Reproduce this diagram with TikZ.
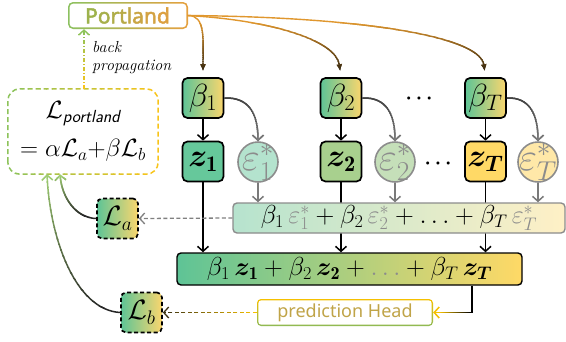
\RequirePackage{fix-cm}
\documentclass[tikz,border=0pt]{standalone}
\usepackage{amsmath}
\usepackage{bm}
\usepackage{fontspec}
\newfontfamily\notosans{Noto Sans}
\newfontfamily\notosansfb{Noto Sans}[FakeBold=2.2]
\usetikzlibrary{arrows.meta}

\definecolor{gA}{HTML}{5EC496}
\definecolor{yA}{HTML}{FAD66E}
\definecolor{zone}{HTML}{66C89B}
\definecolor{ztwo}{HTML}{A8D08E}
\definecolor{zT}{HTML}{FFD966}
\definecolor{eone}{HTML}{B4E3CE}
\definecolor{etwo}{HTML}{C5DFB9}
\definecolor{eT}{HTML}{FFE8A8}
\definecolor{cgray}{HTML}{8C8C8C}
\definecolor{dgray}{HTML}{3A3A3A}
\definecolor{mgray}{HTML}{7A7A7A}
\definecolor{epsL}{HTML}{B6E3CE}
\definecolor{epsR}{HTML}{FFF0C6}
\definecolor{porG}{HTML}{8CC160}
\definecolor{porO}{HTML}{E6A03E}
\definecolor{ptA}{HTML}{9DB24C}
\definecolor{ptB}{HTML}{DCA040}
\definecolor{predY}{HTML}{F5C000}
\definecolor{predG}{HTML}{8DBA55}
\definecolor{predT}{HTML}{C0A448}
\definecolor{lossG}{HTML}{8DC35A}
\definecolor{lossY}{HTML}{F8C419}
\definecolor{arrO}{HTML}{E0972E}
\definecolor{arrD}{HTML}{3A2A10}
\definecolor{arrK}{HTML}{3C3212}

% gradient stroke along y: #1<#2 , colour #3 at #1, colour #4 at #2
\newcommand\ygrad[6]{%
  \foreach \gi in {0,...,23}{%
    \pgfmathsetmacro\gya{#1+(#2-#1)*\gi/24-0.3}%
    \pgfmathsetmacro\gyb{#1+(#2-#1)*(\gi+1)/24+0.3}%
    \ifnum\gi=0 \def\gya{-2000}\fi
    \ifnum\gi=23 \def\gyb{3000}\fi
    \pgfmathtruncatemacro\gpc{100-\gi*100/23}%
    \begin{scope}
      \clip (-2000,\gya) rectangle (3000,\gyb);
      \draw[#5,draw=#3!\gpc!#4] #6;
    \end{scope}}}
\newcommand\xgrad[6]{%
  \foreach \gi in {0,...,23}{%
    \pgfmathsetmacro\gxa{#1+(#2-#1)*\gi/24-0.3}%
    \pgfmathsetmacro\gxb{#1+(#2-#1)*(\gi+1)/24+0.3}%
    \ifnum\gi=0 \def\gxa{-2000}\fi
    \ifnum\gi=23 \def\gxb{3000}\fi
    \pgfmathtruncatemacro\gpc{100-\gi*100/23}%
    \begin{scope}
      \clip (\gxa,-2000) rectangle (\gxb,3000);
      \draw[#5,draw=#3!\gpc!#4] #6;
    \end{scope}}}

\begin{document}
\begin{tikzpicture}[x=1pt,y=-1pt,
  bbox/.style={draw=black, line width=1.7pt, rounded corners=5pt, minimum width=41pt, minimum height=40pt, inner sep=0pt, font=\fontsize{32}{34}\selectfont},
  betabox/.style={bbox, left color=gA, right color=yA},
  ecirc/.style={circle, draw=cgray, line width=1.6pt, minimum size=40pt, inner sep=0pt},
  etext/.style={inner sep=0pt, text=cgray, font=\fontsize{39}{40}\selectfont},
  lbox/.style={bbox, dash pattern=on 4pt off 2.5pt, left color=gA, right color=yA, font=\fontsize{28}{30}\selectfont},
  bar/.style={line width=1.4pt, rounded corners=4pt, inner sep=0pt, font=\fontsize{26}{28}\selectfont},
  barr/.style={line width=1.5pt, -{Straight Barb[length=5pt,width=11pt]}},
  garr/.style={barr},
  pto/.style={line width=1.4pt, -{Latex[length=7pt,width=6pt]}, shorten >=6pt},
  bp/.style={line width=1.4pt, dash pattern=on 4pt off 2pt on 1pt off 2pt, -{Straight Barb[length=5pt,width=11pt]}},
  dashedarr/.style={line width=1.3pt, dash pattern=on 4pt off 2.5pt, -{Straight Barb[length=5pt,width=11pt]}},
  dots/.style={inner sep=0pt, font=\fontsize{20}{20}\selectfont}
]
\useasboundingbox (0,0) rectangle (566,341);
\fill[white] (0,0) rectangle (566,341);

% Portland box
\shade[left color=porG, right color=porO, rounded corners=5pt] (68,2) rectangle (188,29);
\fill[white, rounded corners=3.8pt] (69.6,3.6) rectangle (186.4,27.4);
\node[minimum width=120pt, minimum height=27pt, inner sep=0pt, font=\notosansfb\fontsize{21}{22}\selectfont] (portland) at (127.5,15.5)
  {\textcolor{ptA!100!ptB}{P}\textcolor{ptA!86!ptB}{o}\textcolor{ptA!71!ptB}{r}\textcolor{ptA!57!ptB}{t}\textcolor{ptA!43!ptB}{l}\textcolor{ptA!29!ptB}{a}\textcolor{ptA!14!ptB}{n}\textcolor{ptA!0!ptB}{d}};

% loss box
\node[minimum width=150pt, minimum height=85pt, align=center, font=\fontsize{25}{36}\selectfont] (loss) at (83,131.5)
  {$\mathcal{L}_{\text{\sffamily\itshape portland}}$\\[2pt]$=\alpha\mathcal{L}_a{+}\beta\mathcal{L}_b$};
\xgrad{10}{156}{lossG}{lossY}{line width=1.5pt, dash pattern=on 5pt off 3pt, rounded corners=12pt}{(loss.south west) rectangle (loss.north east)}

% back propagation
\coordinate (bpx) at (84,0);
\ygrad{32}{88}{lossG}{lossY}{bp}{(bpx |- loss.north) -- (bpx |- portland.south)}
\node[anchor=west, align=left, inner sep=0pt, font=\itshape\fontsize{16}{18}\selectfont] (bptext) at (92,58) {back\\propagation};

% beta and z boxes
\node[betabox] (b1) at (203,98) {$\beta_1$};
\node[betabox] (b2) at (341,98) {$\beta_2$};
\node[betabox] (bT) at (485.5,98) {$\beta_T$};
\node[bbox, fill=zone] (z1) at (203,161.5) {$\bm{z}_{\mathbf{1}}$};
\node[bbox, fill=ztwo] (z2) at (341,161.5) {$\bm{z}_{\mathbf{2}}$};
\node[bbox, fill=zT] (zT) at (485.5,161.5) {$\bm{z}_{\bm{T}}$};

% epsilon circles
\node[ecirc, fill=eone] (e1) at (258,162) {};
\node[etext] (e1t) at (e1) {$\varepsilon_1^*$};
\node[ecirc, fill=etwo] (e2) at (395,162) {};
\node[etext] (e2t) at (e2) {$\varepsilon_2^*$};
\node[ecirc, fill=eT] (eT) at (538,162) {};
\node[etext] (eTt) at (eT) {$\varepsilon_T^*$};

% dots
\node[dots] (d1) at (421,99) {$\bm{\cdots}$};
\node[dots] (d2) at (440,164) {$\bm{\cdots}$};

% Portland -> betas
\ygrad{22}{72}{arrO}{arrD}{pto}{(portland.east) .. controls (206,15) and (203,40) .. (b1.north)}
\ygrad{22}{72}{arrO}{arrD}{pto}{(portland.east) .. controls (270,20) and (336,40) .. (b2.north)}
\ygrad{22}{72}{arrO}{arrD}{pto}{(portland.east) .. controls (360,17) and (480,36) .. (bT.north)}

% beta -> eps circles
\ygrad{93}{142}{dgray}{mgray}{garr}{(b1.east) .. controls (250,97) and (258,115) .. (e1.north)}
\ygrad{93}{142}{dgray}{mgray}{garr}{(b2.east) .. controls (387,97) and (395,115) .. (e2.north)}
\ygrad{93}{142}{dgray}{mgray}{garr}{(bT.east) .. controls (530,97) and (538,115) .. (eT.north)}

% beta -> z
\draw[barr] (b1) -- (z1);
\draw[barr] (b2) -- (z2);
\draw[barr] (bT) -- (zT);

% z sum bar
\node[bar, draw=black, left color=gA, right color=zT, minimum width=345pt, minimum height=32pt] (zbar) at (349.5,269)
  {$\beta_1\,\bm{z}_{\mathbf{1}}+\beta_2\,\bm{z}_{\mathbf{2}}+\textcolor{cgray}{\ldots}+\beta_T\,\bm{z}_{\bm{T}}$};

\draw[barr] (z1) -- (z1 |- zbar.north);
\draw[barr] (z2) -- (z2 |- zbar.north);
\draw[barr] (zT) -- (zT |- zbar.north);

% eps sum bar
\node[bar, draw=cgray, left color=epsL, right color=epsR, minimum width=332pt, minimum height=30pt] (eps) at (399,218)
  {$\beta_1\,\textcolor{cgray}{\varepsilon_1^*}+\beta_2\,\textcolor{cgray}{\varepsilon_2^*}+\ldots+\beta_T\,\textcolor{cgray}{\varepsilon_T^*}$};

\draw[garr, draw=mgray] (e1) -- (e1 |- eps.north);
\draw[garr, draw=mgray] (e2) -- (e2 |- eps.north);
\draw[garr, draw=mgray] (eT) -- (eT |- eps.north);

% L boxes
\node[lbox] (La) at (117.5,218.5) {$\mathcal{L}_a$};
\node[lbox] (Lb) at (141.5,312.5) {$\mathcal{L}_b$};

% prediction head
\shade[top color=predY, bottom color=predG, rounded corners=4pt] (257,299) rectangle (433,326);
\fill[white, rounded corners=2.8pt] (258.4,300.4) rectangle (431.6,324.6);
\node[minimum width=176pt, minimum height=27pt, inner sep=0pt, text=predT, font=\notosans\fontsize{18}{20}\selectfont] (pred) at (345,312.5) {prediction Head};

% connectors
\draw[dashedarr, draw=gray] (eps.west) -- (La.east);
\xgrad{165}{257}{arrK}{predY}{dashedarr}{(pred.west) -- (Lb.east)}
\coordinate (zp) at (472,0);
\xgrad{440}{472}{predY}{black}{barr}{(zp |- zbar.south) |- (pred.east)}
\coordinate (lae) at (60,0);
\coordinate (lbe) at (47,0);
\ygrad{176}{218}{lossG}{black!85}{barr}{(La.west) .. controls (76,218) and (62,198) .. (lae |- loss.south)}
\ygrad{176}{313}{lossG}{black!85}{barr}{(Lb.west) .. controls (76,310) and (50,240) .. (lbe |- loss.south)}
\end{tikzpicture}
\end{document}
